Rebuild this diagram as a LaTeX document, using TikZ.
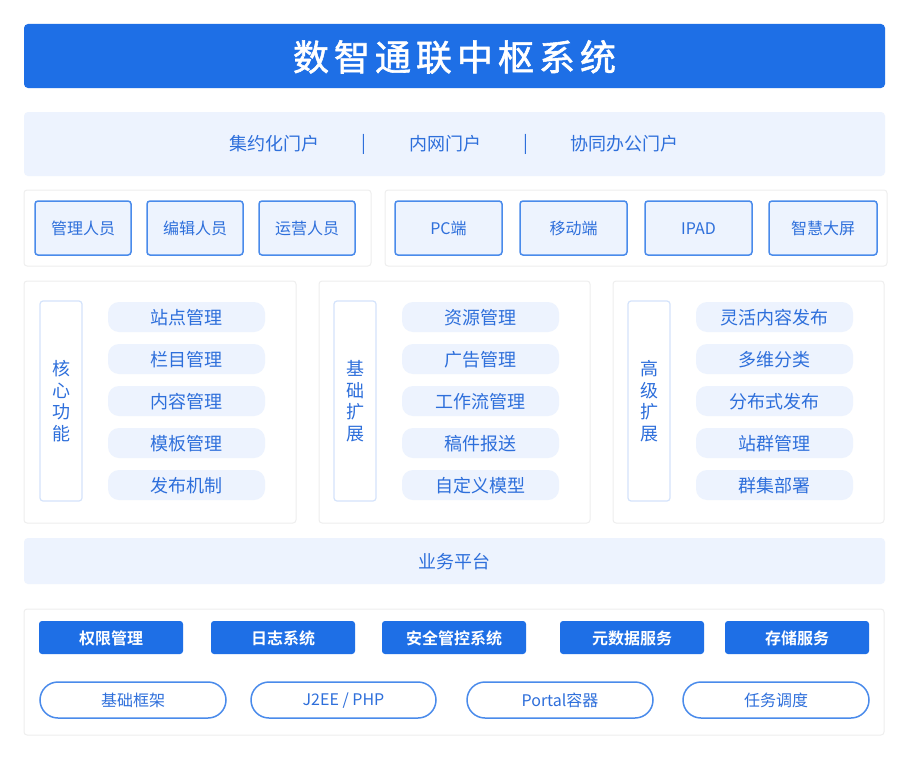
\documentclass[tikz,border=0pt]{standalone}
\usepackage{fontspec}
\setmainfont{Noto Sans CJK SC}
\newfontfamily\cjkbold{Noto Sans CJK SC Bold}
\newfontfamily\cjktitle[FakeBold=1.6]{Noto Sans CJK SC}
\definecolor{mainblue}{HTML}{1E6FE6}
\definecolor{txtblue}{HTML}{2E6FDB}
\definecolor{lightfill}{HTML}{EDF3FE}
\definecolor{boxborder}{HTML}{4A8BEB}
\definecolor{panelborder}{HTML}{EEEEEE}
\definecolor{vborder}{HTML}{D4E3FB}
\newcommand{\tsp}{\hspace{5pt}}
\begin{document}
\begin{tikzpicture}[x=1pt,y=-1pt,
  panel/.style={draw=panelborder,line width=1pt,fill=white,rounded corners=3pt},
  band/.style={fill=lightfill,rounded corners=4pt},
  rolebox/.style={draw=boxborder,line width=1.5pt,fill=lightfill,rounded corners=3pt},
  pill/.style={fill=lightfill,rounded corners=11pt},
  vbox/.style={draw=vborder,line width=1.2pt,fill=white,rounded corners=3pt},
  bluebtn/.style={fill=mainblue,rounded corners=3pt},
  outpill/.style={draw=boxborder,line width=1.5pt,fill=white,rounded corners=18pt},
  lbl/.style={text=txtblue,font=\fontsize{18}{20}\selectfont,inner sep=0pt},
  lblsm/.style={text=txtblue,font=\fontsize{16}{18}\selectfont,inner sep=0pt},
  whitelbl/.style={text=white,font=\cjkbold\fontsize{16}{18}\selectfont,inner sep=0pt},
  vlbl/.style={text=txtblue,font=\fontsize{18}{21.5}\selectfont,align=center,inner sep=0pt}
]
\useasboundingbox (0,0) rectangle (912,760);
\fill[white] (0,0) rectangle (912,760);

% title
\fill[mainblue,rounded corners=4pt] (24,24) rectangle (885,88);
\node[text=white,font=\cjktitle\fontsize{36}{40}\selectfont,inner sep=0pt] (title) at (454.5,57) {数\tsp 智\tsp 通\tsp 联\tsp 中\tsp 枢\tsp 系\tsp 统};

% portal band
\fill[band] (24,112) rectangle (885,176);
\node[lbl] (p1) at (274,144) {集约化门户};
\node[lbl] (s1) at (364,144) {|};
\node[lbl] (p2) at (445,144) {内网门户};
\node[lbl] (s2) at (526,144) {|};
\node[lbl] (p3) at (624,144) {协同办公门户};

% roles panel
\draw[panel] (24,190) rectangle (371,266);
\draw[panel] (385,190) rectangle (887,266);
\draw[rolebox] (35,201) rectangle (131,255);
\node[lblsm] (r1) at (83,228.5) {管理人员};
\draw[rolebox] (147,201) rectangle (243,255);
\node[lblsm] (r2) at (195,228.5) {编辑人员};
\draw[rolebox] (259,201) rectangle (355,255);
\node[lblsm] (r3) at (307,228.5) {运营人员};
\draw[rolebox] (395,201) rectangle (502,255);
\node[lblsm] (d1) at (448.5,228.5) {PC端};
\draw[rolebox] (520,201) rectangle (627,255);
\node[lblsm] (d2) at (573.5,228.5) {移动端};
\draw[rolebox] (645,201) rectangle (752,255);
\node[lblsm] (d3) at (698.5,228.5) {IPAD};
\draw[rolebox] (769,201) rectangle (877,255);
\node[lblsm] (d4) at (823,228.5) {智慧大屏};

% three modules
\foreach \px/\pw/\vx/\vt/\ia/\ib/\ic/\id/\ie/\nm in {
  24/296/40/{核\\心\\功\\能}/站点管理/栏目管理/内容管理/模板管理/发布机制/a,
  319/590/334/{基\\础\\扩\\展}/资源管理/广告管理/工作流管理/稿件报送/自定义模型/b,
  613/884/628/{高\\级\\扩\\展}/灵活内容发布/多维分类/分布式发布/站群管理/群集部署/c}{
  \draw[panel] (\px,281) rectangle (\pw,523);
  \draw[vbox] (\vx,301) rectangle ({\vx+42},501);
  \node[vlbl] (v\nm) at ({\vx+21},401) {\vt};
  \foreach \t [count=\k] in {\ia,\ib,\ic,\id,\ie}{
    \fill[pill] ({\vx+68},{302+42*(\k-1)}) rectangle ({\vx+225},{332+42*(\k-1)});
    \node[lbl] (m\nm\k) at ({\vx+146.5},{318+42*(\k-1)}) {\t};
  }
}

% business band
\fill[band] (24,538) rectangle (885,584);
\node[lbl] (biz) at (454.5,562) {业务平台};

% bottom panel
\draw[panel] (24,609) rectangle (884,735);
\fill[bluebtn] (39,621) rectangle (183,654);
\node[whitelbl] (b1) at (111,638) {权限管理};
\fill[bluebtn] (211,621) rectangle (355,654);
\node[whitelbl] (b2) at (283,638) {日志系统};
\fill[bluebtn] (382,621) rectangle (526,654);
\node[whitelbl] (b3) at (454,638) {安全管控系统};
\fill[bluebtn] (560,621) rectangle (704,654);
\node[whitelbl] (b4) at (632,638) {元数据服务};
\fill[bluebtn] (725,621) rectangle (869,654);
\node[whitelbl] (b5) at (797,638) {存储服务};

\draw[outpill] (40,682) rectangle (226,718);
\node[lblsm] (o1) at (133,700.5) {基础框架};
\draw[outpill] (251,682) rectangle (436,718);
\node[lblsm] (o2) at (343.5,700.5) {J2EE / PHP};
\draw[outpill] (467,682) rectangle (653,718);
\node[lblsm] (o3) at (560,700.5) {Portal容器};
\draw[outpill] (683,682) rectangle (869,718);
\node[lblsm] (o4) at (776,700.5) {任务调度};
\end{tikzpicture}
\end{document}
